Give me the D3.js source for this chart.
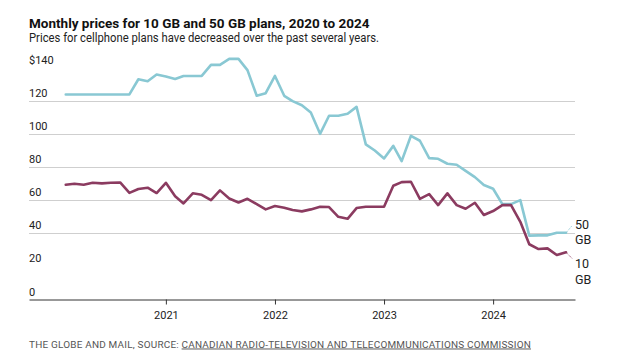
<!DOCTYPE html>
<html>
<head>
<meta charset="utf-8">
<script src="https://cdn.jsdelivr.net/npm/d3@7"></script>
<style>
  html, body { margin: 0; padding: 0; background: #fff; }
  svg { display: block; }
  text { font-family: Roboto, "Noto Sans", sans-serif; }
</style>
</head>
<body>
<svg id="chart" width="617" height="359"></svg>
<script>
// ---- Data ----
const firstMonth = "2020-02";
const lastMonth = "2024-09";
const price50GB = [124, 124, 124, 124, 124, 124, 124, 124, 133.2, 132.0, 136.1, 134.9,
  133.4, 135.2, 135.2, 135.2, 141.9, 141.9, 145.5, 145.5, 138.7, 123.2, 124.8, 135.2,
  123.2, 120.0, 117.5, 113.1, 100.2, 111.1, 111.1, 112.3, 116.5, 93.8, 90.1, 85.3,
  92.9, 83.7, 99.0, 96.0, 85.5, 85.1, 82.1, 81.5, 77.8, 74.0, 69.2, 67.0,
  57.7, 57.7, 60.1, 38.6, 38.8, 38.8, 40.4, 40.4];
const price10GB = [69.4, 70.0, 69.4, 70.6, 70.2, 70.6, 70.8, 64.5, 66.8, 67.6, 64.4, 70.6,
  62.5, 58.1, 64.2, 63.3, 60.1, 66.0, 61.1, 58.7, 60.9, 57.7, 54.5, 56.5,
  55.5, 54.1, 53.3, 54.5, 56.1, 55.9, 50.0, 48.8, 55.3, 56.1, 56.1, 56.1,
  68.8, 71.0, 71.2, 60.9, 63.7, 57.1, 64.2, 57.1, 54.9, 58.5, 51.1, 53.5,
  57.1, 57.1, 47.0, 33.4, 30.5, 30.9, 26.9, 28.5];
const yTicks = [0, 20, 40, 60, 80, 100, 120, 140];
const gridTicks = [40, 60, 80, 100, 120];
const xTickYears = ["2021", "2022", "2023", "2024"];
const seriesNames = ["50 GB", "10 GB"];

const title = "Monthly prices for 10 GB and 50 GB plans, 2020 to 2024";
const subtitle = "Prices for cellphone plans have decreased over the past several years.";
const sourcePrefix = "THE GLOBE AND MAIL, SOURCE: ";
const sourceLink = "CANADIAN RADIO-TELEVISION AND TELECOMMUNICATIONS COMMISSION";

// ---- Build ----
const parseMonth = d3.timeParse("%Y-%m");
const months = d3.timeMonth.range(parseMonth(firstMonth), d3.timeMonth.offset(parseMonth(lastMonth), 1));
const series = [
  { name: seriesNames[0], color: "#89c8d3", values: months.map((m, i) => ({ date: m, v: price50GB[i] })) },
  { name: seriesNames[1], color: "#8b3b60", values: months.map((m, i) => ({ date: m, v: price10GB[i] })) }
];

const svg = d3.select("#chart");
const plotLeft = 29, plotRight = 575, plotTop = 68, plotBottom = 299.5;

const x = d3.scaleTime()
  .domain([new Date(2019, 9, 1), new Date(2024, 9, 1)])
  .range([plotLeft, plotRight]);
const y = d3.scaleLinear().domain([0, 140]).range([plotBottom, plotTop]);

function fitText(sel, w) {
  const n = sel.node();
  const len = n.getComputedTextLength();
  if (Math.abs(len - w) > 2) sel.attr("textLength", w).attr("lengthAdjust", "spacingAndGlyphs");
}

// Title & subtitle
const t1 = svg.append("text").attr("x", 29).attr("y", 27.5)
  .attr("font-size", 13.5).attr("font-weight", 700).attr("fill", "#111").text(title);
fitText(t1, 342);
const t2 = svg.append("text").attr("x", 29).attr("y", 41.5)
  .attr("font-size", 12.5).attr("fill", "#222").text(subtitle);
fitText(t2, 350);

// Gridlines
svg.append("g").selectAll("line").data(gridTicks).join("line")
  .attr("x1", plotLeft).attr("x2", plotRight)
  .attr("y1", d => Math.round(y(d)) + 0.5).attr("y2", d => Math.round(y(d)) + 0.5)
  .attr("stroke", "#cfcfcf").attr("stroke-width", 1);

// Y labels
const yAxis = d3.axisRight(y).tickValues(yTicks).tickSize(0)
  .tickFormat(d => d === 140 ? "$" + d : String(d));
const gy = svg.append("g").attr("transform", `translate(${plotLeft},0)`).call(yAxis);
gy.select(".domain").remove();
gy.selectAll("text").attr("x", 0).attr("dy", -4.5).attr("text-anchor", "start")
  .attr("font-size", 11).attr("fill", "#222").attr("font-family", "Roboto, 'Noto Sans', sans-serif");

// X axis
const xAxis = d3.axisBottom(x)
  .tickValues(xTickYears.map(yr => new Date(+yr, 0, 1)))
  .tickFormat(d3.timeFormat("%Y")).tickSize(5).tickSizeOuter(0).tickPadding(7);
const gx = svg.append("g").attr("transform", `translate(0,${Math.round(plotBottom) - 0.5})`).call(xAxis);
gx.select(".domain").attr("stroke", "#333");
gx.selectAll(".tick line").attr("stroke", "#333");
gx.selectAll("text").attr("font-size", 11).attr("fill", "#222")
  .attr("font-family", "Roboto, 'Noto Sans', sans-serif");

// Lines
const line = d3.line().x(d => x(d.date)).y(d => y(d.v));
svg.append("g").selectAll("path").data(series).join("path")
  .attr("d", d => line(d.values))
  .attr("fill", "none").attr("stroke", d => d.color)
  .attr("stroke-width", 2.6).attr("stroke-linejoin", "round").attr("stroke-linecap", "round");

// End labels with small leaders
const labelOffsets = [-7, 6];
series.forEach((s, i) => {
  const last = s.values[s.values.length - 1];
  const lx = x(last.date), ly = y(last.v);
  svg.append("line").attr("x1", lx + 1).attr("y1", ly + (i === 0 ? -1 : 1))
    .attr("x2", lx + 6).attr("y2", ly + labelOffsets[i])
    .attr("stroke", s.color).attr("stroke-width", 1).attr("stroke-dasharray", "1,1");
  const parts = s.name.split(" ");
  const tx = svg.append("text").attr("x", 575).attr("font-size", 12.5).attr("fill", "#222");
  const baseY = ly + labelOffsets[i] + (i === 0 ? 3 : 10);
  parts.forEach((p, j) => {
    tx.append("tspan").attr("x", 575).attr("y", baseY + j * 15.5).text(p);
  });
});

// Source
const src = svg.append("text").attr("x", 29).attr("y", 347.5)
  .attr("font-size", 9.5).attr("fill", "#555").attr("letter-spacing", 0.2);
src.append("tspan").text(sourcePrefix);
src.append("tspan").attr("text-decoration", "underline").text(sourceLink);
fitText(src, 502);
</script>
</body>
</html>
